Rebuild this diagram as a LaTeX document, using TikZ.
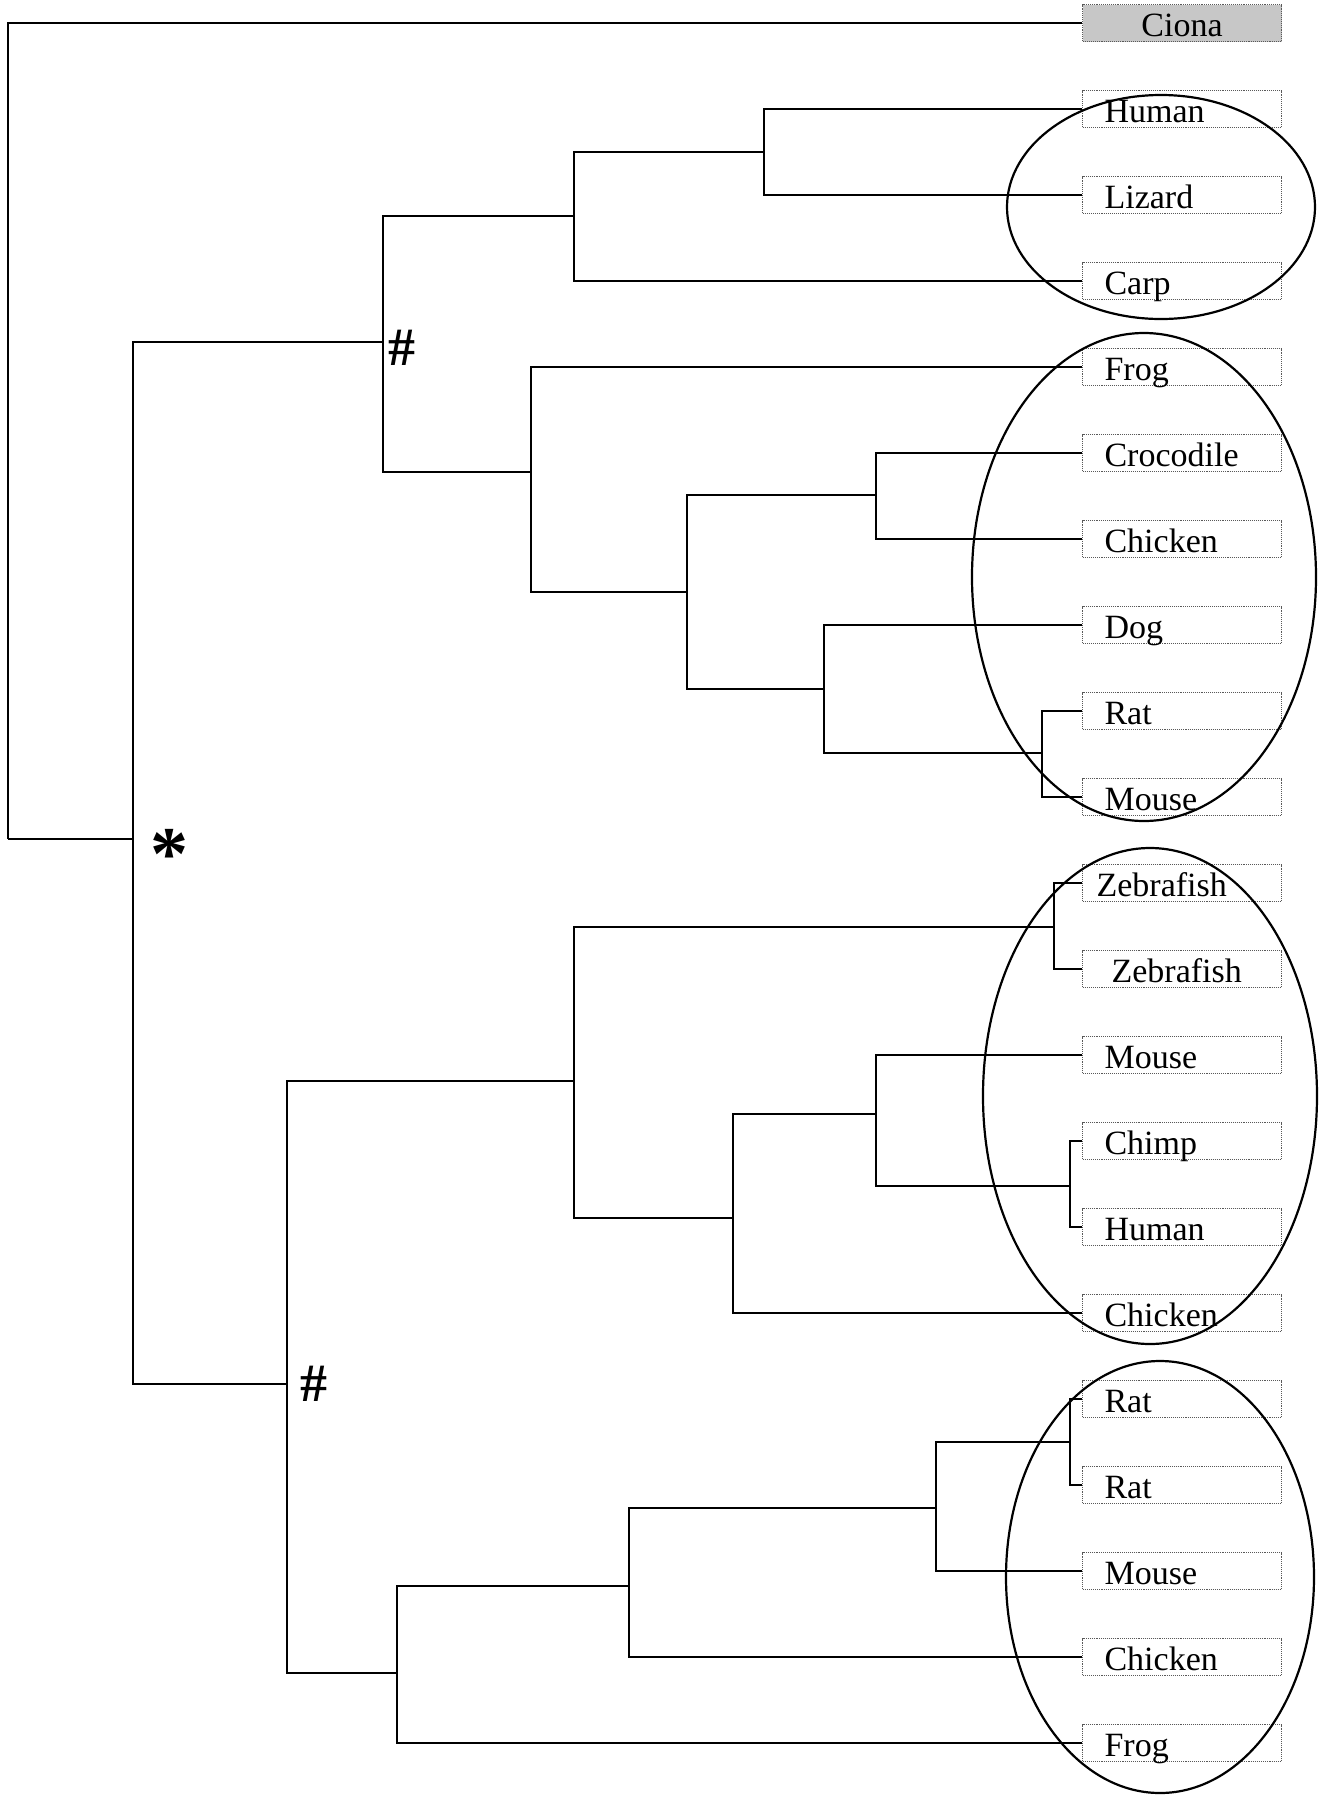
\documentclass[tikz,border=0pt]{standalone}
\usepackage{fontspec}
\setmainfont{Liberation Serif}
\usepackage{tikz}

\begin{document}
\begin{tikzpicture}[x=1pt, y=-1pt,
        leaf/.style={draw=black!65, densely dotted, line width=1.1pt, anchor=west,
                     minimum width=199pt, minimum height=37pt, inner ysep=0pt, inner xsep=22pt,
                     text width=155pt, align=left, text height=30pt, text depth=4pt,
                     font=\fontsize{34}{36}\selectfont},
        root/.style={leaf, fill=black!22, align=center},
        br/.style={line width=1.9pt},
        grp/.style={line width=2.2pt},
        mark/.style={font=\fontsize{#1}{#1}\selectfont\bfseries, inner sep=0pt}
    ]
        \useasboundingbox (0,0) rectangle (1332,1800);

        \node[root] (ci) at (1082,23)   {Ciona};
        \node[leaf] (h1) at (1082,109)  {Human};
        \node[leaf] (l1) at (1082,195)  {Lizard};
        \node[leaf] (ca) at (1082,281)  {Carp};
        \node[leaf] (f1) at (1082,367)  {Frog};
        \node[leaf] (cr) at (1082,453)  {Crocodile};
        \node[leaf] (c1) at (1082,539)  {Chicken};
        \node[leaf] (do) at (1082,625)  {Dog};
        \node[leaf] (r1) at (1082,711)  {Rat};
        \node[leaf] (m1) at (1082,797)  {Mouse};
        \node[leaf] (z1) at (1082,883)  {\hspace*{-8pt}Zebrafish};
        \node[leaf] (z2) at (1082,969)  {\hspace*{7pt}Zebrafish};
        \node[leaf] (m2) at (1082,1055) {Mouse};
        \node[leaf] (cp) at (1082,1141) {Chimp};
        \node[leaf] (h2) at (1082,1227) {Human};
        \node[leaf] (c2) at (1082,1313) {Chicken};
        \node[leaf] (r2) at (1082,1399) {Rat};
        \node[leaf] (r3) at (1082,1485) {Rat};
        \node[leaf] (m3) at (1082,1571) {Mouse};
        \node[leaf] (c3) at (1082,1657) {Chicken};
        \node[leaf] (f2) at (1082,1743) {Frog};

        \coordinate (rt) at (8,839);
        \coordinate (st) at (133,839);
        \coordinate (ha) at (383,342);
        \coordinate (a1) at (574,216);
        \coordinate (a2) at (764,152);
        \coordinate (b1) at (531,472);
        \coordinate (b2) at (687,592);
        \coordinate (b3) at (876,495);
        \coordinate (b4) at (824,689);
        \coordinate (b5) at (1042,753);
        \coordinate (hb) at (287,1384);
        \coordinate (g1) at (574,1081);
        \coordinate (g2) at (1054,927);
        \coordinate (g3) at (733,1218);
        \coordinate (g4) at (876,1114);
        \coordinate (g5) at (1070,1186);
        \coordinate (k1) at (397,1673);
        \coordinate (k2) at (629,1586);
        \coordinate (k3) at (936,1508);
        \coordinate (k4) at (1070,1442);

        \draw[br] (rt) |- (ci.west) (rt) -- (st);
        \draw[br] (st) |- (ha) (st) |- (hb);
        \draw[br] (ha) |- (a1) (ha) |- (b1);
        \draw[br] (a1) |- (a2) (a1) |- (ca.west);
        \draw[br] (a2) |- (h1.west) (a2) |- (l1.west);
        \draw[br] (b1) |- (f1.west) (b1) |- (b2);
        \draw[br] (b2) |- (b3) (b2) |- (b4);
        \draw[br] (b3) |- (cr.west) (b3) |- (c1.west);
        \draw[br] (b4) |- (do.west) (b4) |- (b5);
        \draw[br] (b5) |- (r1.west) (b5) |- (m1.west);
        \draw[br] (hb) |- (g1) (hb) |- (k1);
        \draw[br] (g1) |- (g2) (g1) |- (g3);
        \draw[br] (g2) |- (z1.west) (g2) |- (z2.west);
        \draw[br] (g3) |- (g4) (g3) |- (c2.west);
        \draw[br] (g4) |- (m2.west) (g4) |- (g5);
        \draw[br] (g5) |- (cp.west) (g5) |- (h2.west);
        \draw[br] (k1) |- (k2) (k1) |- (f2.west);
        \draw[br] (k2) |- (k3) (k2) |- (c3.west);
        \draw[br] (k3) |- (k4) (k3) |- (m3.west);
        \draw[br] (k4) |- (r2.west) (k4) |- (r3.west);

        \node[mark=76] (ast) at (169,854) {*};
        \node[mark=54] (hsa) at (402,348) {\#};
        \node[mark=54] (hsb) at (314,1384) {\#};

        \draw[grp] (1161,207) ellipse [x radius=154pt, y radius=112pt];
        \draw[grp] (1144,577) ellipse [x radius=172pt, y radius=244pt];
        \draw[grp] (1150,1096) ellipse [x radius=167pt, y radius=248pt];
        \draw[grp] (1160,1577) ellipse [x radius=154pt, y radius=216pt];
    \end{tikzpicture}
\end{document}
